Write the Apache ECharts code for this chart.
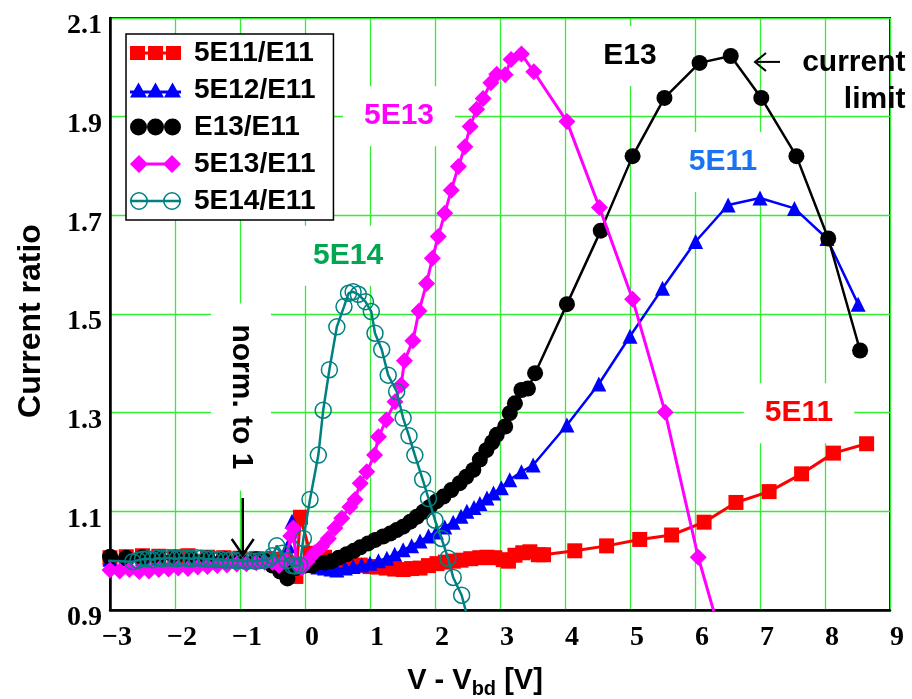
<!DOCTYPE html>
<html>
<head>
<meta charset="utf-8">
<script src="https://cdn.jsdelivr.net/npm/echarts@6/dist/echarts.min.js"></script>
<style>
  html, body { margin: 0; padding: 0; background: #fff; }
  #chart { width: 912px; height: 699px; }
</style>
</head>
<body>
<div id="chart"></div>
<script>
// Current ratio versus V - Vbd, each dose normalised to the E11 curve.
// Points are [V - Vbd (V), current ratio].
const ratio5E11 = [
  [-3, 1.006], [-2.75, 1.008], [-2.5, 1.01], [-2.25, 1.009], [-2.0, 1.008], [-1.8, 1.01],
  [-1.5, 1.007], [-1.25, 1.006], [-1.0, 1.005], [-0.75, 1.004], [-0.5, 1.003], [-0.3, 1.0],
  [-0.14, 0.968], [-0.07, 1.088], [0.08, 1.015], [0.2, 1.01], [0.3, 1.007], [0.42, 1.0],
  [0.55, 0.996], [0.7, 0.993], [0.85, 0.991], [1.0, 0.988], [1.12, 0.987], [1.25, 0.985],
  [1.38, 0.983], [1.51, 0.982], [1.64, 0.984], [1.77, 0.985], [1.9, 0.99], [2.03, 0.994],
  [2.16, 0.997], [2.28, 0.999], [2.4, 1.001], [2.55, 1.004], [2.69, 1.006], [2.8, 1.007],
  [2.92, 1.006], [3.05, 1.002], [3.13, 0.999], [3.23, 1.011], [3.35, 1.016], [3.46, 1.018],
  [3.59, 1.012], [3.67, 1.012], [4.15, 1.02], [4.64, 1.03], [5.15, 1.043], [5.64, 1.052],
  [6.14, 1.078], [6.63, 1.118], [7.14, 1.14], [7.64, 1.176], [8.13, 1.218], [8.64, 1.237]
];
const ratio5E12 = [
  [-3, 1.003], [-2.75, 1.004], [-2.5, 1.005], [-2.25, 1.005], [-2.0, 1.004], [-1.75, 1.005],
  [-1.5, 1.004], [-1.25, 1.003], [-1.0, 1.002], [-0.75, 1.002], [-0.5, 1.0], [-0.35, 1.0],
  [-0.26, 1.03], [-0.2, 1.08], [-0.13, 1.0], [-0.03, 0.99], [0.1, 0.99], [0.2, 0.987],
  [0.3, 0.985], [0.4, 0.983], [0.49, 0.981], [0.62, 0.985], [0.74, 0.988], [0.87, 0.991],
  [1.0, 0.995], [1.13, 1.0], [1.26, 1.005], [1.38, 1.013], [1.51, 1.022], [1.64, 1.03],
  [1.77, 1.04], [1.9, 1.05], [2.02, 1.058], [2.15, 1.068], [2.28, 1.078], [2.4, 1.09],
  [2.49, 1.1], [2.6, 1.108], [2.69, 1.116], [2.8, 1.127], [2.9, 1.137], [3.02, 1.148],
  [3.15, 1.164], [3.33, 1.18], [3.51, 1.194], [4.03, 1.275], [4.52, 1.358], [5.0, 1.455],
  [5.5, 1.552], [6.01, 1.647], [6.51, 1.721], [7.0, 1.735], [7.53, 1.714], [8.03, 1.653],
  [8.51, 1.52]
];
const ratioE13 = [
  [-3, 1.008], [-2.75, 1.006], [-2.5, 1.007], [-2.25, 1.006], [-2.0, 1.006], [-1.75, 1.005],
  [-1.5, 1.005], [-1.25, 1.004], [-1.0, 1.004], [-0.75, 1.003], [-0.6, 1.0], [-0.5, 0.99],
  [-0.38, 0.978], [-0.27, 0.964], [-0.15, 0.985], [0.0, 0.99], [0.1, 0.99], [0.18, 0.995],
  [0.3, 0.996], [0.41, 0.999], [0.52, 1.006], [0.64, 1.013], [0.75, 1.02], [0.85, 1.027],
  [0.97, 1.035], [1.08, 1.042], [1.2, 1.049], [1.31, 1.055], [1.41, 1.062], [1.51, 1.069],
  [1.62, 1.079], [1.72, 1.089], [1.82, 1.099], [1.92, 1.109], [2.02, 1.12], [2.13, 1.13],
  [2.25, 1.143], [2.38, 1.157], [2.48, 1.17], [2.59, 1.184], [2.69, 1.205], [2.79, 1.224],
  [2.88, 1.24], [2.95, 1.255], [3.08, 1.272], [3.15, 1.299], [3.23, 1.319], [3.33, 1.346],
  [3.43, 1.349], [3.54, 1.38], [4.03, 1.52], [4.55, 1.669], [5.04, 1.82], [5.53, 1.938],
  [6.07, 2.009], [6.55, 2.023], [7.02, 1.938], [7.56, 1.82], [8.05, 1.653], [8.54, 1.426]
];
const ratio5E13 = [
  [-3, 0.981], [-2.85, 0.979], [-2.7, 0.982], [-2.55, 0.978], [-2.4, 0.979], [-2.25, 0.982],
  [-2.1, 0.983], [-1.95, 0.985], [-1.8, 0.984], [-1.65, 0.987], [-1.5, 0.988], [-1.35, 0.99],
  [-1.2, 0.991], [-1.05, 0.993], [-0.9, 0.994], [-0.75, 0.996], [-0.62, 0.997], [-0.5, 0.997],
  [-0.4, 0.99], [-0.3, 1.0], [-0.22, 1.05], [-0.18, 1.066], [-0.13, 0.995], [-0.05, 0.985],
  [0.03, 0.998], [0.15, 1.016], [0.255, 1.028], [0.36, 1.045], [0.46, 1.066], [0.565, 1.086],
  [0.69, 1.109], [0.77, 1.124], [0.85, 1.157], [0.95, 1.18], [1.07, 1.214], [1.13, 1.251],
  [1.25, 1.285], [1.385, 1.322], [1.48, 1.356], [1.53, 1.405], [1.66, 1.446], [1.754, 1.506],
  [1.87, 1.562], [1.96, 1.613], [2.05, 1.657], [2.15, 1.704], [2.25, 1.751], [2.36, 1.799],
  [2.46, 1.839], [2.54, 1.88], [2.64, 1.915], [2.74, 1.937], [2.86, 1.969], [2.95, 1.986],
  [3.08, 1.985], [3.17, 2.016], [3.33, 2.027], [3.52, 1.991], [4.03, 1.89], [4.53, 1.716],
  [5.04, 1.53], [5.54, 1.301], [6.05, 1.007], [6.5, 0.8]
];
const ratio5E14 = [
  [-3.1, 1.0], [-2.65, 0.998], [-2.57, 1.001], [-2.5, 1.003], [-2.42, 1.004], [-2.35, 1.002],
  [-2.27, 1.005], [-2.2, 1.004], [-2.12, 1.006], [-2.05, 1.005], [-1.97, 1.004], [-1.9, 1.006],
  [-1.82, 1.005], [-1.75, 1.004], [-1.67, 1.006], [-1.6, 1.005], [-1.52, 1.003], [-1.45, 1.004],
  [-1.37, 1.002], [-1.3, 1.003], [-1.22, 1.001], [-1.15, 1.002], [-1.07, 1.0], [-1.0, 1.001],
  [-0.92, 0.999], [-0.85, 1.0], [-0.77, 0.999], [-0.7, 1.0], [-0.62, 1.001], [-0.55, 1.003],
  [-0.5, 1.01], [-0.435, 1.03], [-0.35, 1.015], [-0.28, 1.0], [-0.2, 0.99], [-0.15, 0.989],
  [-0.08, 0.991], [-0.025, 1.045], [0.077, 1.124], [0.205, 1.214], [0.28, 1.305], [0.375, 1.387],
  [0.49, 1.474], [0.6, 1.515], [0.67, 1.542], [0.74, 1.545], [0.82, 1.54], [0.93, 1.525],
  [1.02, 1.505], [1.077, 1.461], [1.18, 1.428], [1.28, 1.376], [1.41, 1.343], [1.51, 1.289],
  [1.6, 1.253], [1.69, 1.214], [1.81, 1.165], [1.9, 1.126], [2.0, 1.082], [2.1, 1.045],
  [2.2, 1.005], [2.28, 0.966], [2.41, 0.93], [2.55, 0.86]
];

const seriesNames = ['5E11/E11', '5E12/E11', 'E13/E11', '5E13/E11', '5E14/E11'];

// Text notes placed in data coordinates.
const notes = [
  { text: '5E13', x: 1.446, y: 1.901, color: '#ff00ff' },
  { text: '5E14', x: 0.662, y: 1.618, color: '#00a650' },
  { text: 'E13', x: 5.0, y: 2.023, color: '#000000' },
  { text: '5E11', x: 6.431, y: 1.808, color: '#1a73f0' },
  { text: '5E11', x: 7.6, y: 1.299, color: '#ff0000' },
  { text: 'norm. to 1', x: -0.985, y: 1.332, color: '#000000', rotate: -90 }
];
const limitNote = { text: 'current\nlimit', x: 9.246, y: 1.971 };

// Arrows: [fromV, fromRatio, toV, toRatio], head at the second point.
const arrows = [
  [-0.958, 1.127, -0.958, 1.0115],
  [7.308, 2.011, 6.923, 2.011]
];

const sans = 'Liberation Sans, Arial, sans-serif';
const serif = 'Liberation Serif, Times New Roman, serif';

const legendIcons = [
  'path://M0,1h15v14h-15z M18,1h15v14h-15z M36,1h15v14h-15z M14,6.5h5v3h-5z M32,6.5h5v3h-5z',
  'path://M0,16L8.5,1L17,16Z M17,16L25.5,1L34,16Z M34,16L42.5,1L51,16Z M0,9h51v3h-51z',
  'path://M0,8A8.5,8.5 0 1,1 17,8A8.5,8.5 0 1,1 0,8Z M17,8A8.5,8.5 0 1,1 34,8A8.5,8.5 0 1,1 17,8Z M34,8A8.5,8.5 0 1,1 51,8A8.5,8.5 0 1,1 34,8Z',
  'path://M0,9L9,0L18,9L9,18Z M33,9L42,0L51,9L42,18Z M16,7.5h19v3h-19z',
  'path://M0,9A9,9 0 1,1 18,9A9,9 0 1,1 0,9Z M1.6,9A7.4,7.4 0 1,0 16.4,9A7.4,7.4 0 1,0 1.6,9Z M33,9A9,9 0 1,1 51,9A9,9 0 1,1 33,9Z M34.6,9A7.4,7.4 0 1,0 49.4,9A7.4,7.4 0 1,0 34.6,9Z M0,7.8h51v2.4h-51z'
];
const colors = ['#ff0000', '#0000ff', '#000000', '#ff00ff', '#008080'];

function lineSeries(i, data, symbol, size, width) {
  return {
    name: seriesNames[i],
    type: 'line',
    data: data,
    symbol: symbol,
    symbolSize: size,
    showAllSymbol: true,
    clip: true,
    z: 2 + i * 0.01,
    lineStyle: { color: colors[i], width: width },
    itemStyle: { color: colors[i] },
    emphasis: { disabled: true }
  };
}

const chart = echarts.init(document.getElementById('chart'), null, { renderer: 'canvas' });

const teal = lineSeries(4, ratio5E14, 'circle', 16, 2.5);
teal.itemStyle = { color: 'rgba(0,0,0,0)', borderColor: colors[4], borderWidth: 1.5 };

chart.setOption({
  animation: false,
  backgroundColor: '#ffffff',
  grid: {
    left: 110, right: 22, top: 18, bottom: 89,
    containLabel: false,
    outerBoundsMode: 'none',
    show: true, borderColor: '#111', borderWidth: 2, backgroundColor: '#ffffff'
  },
  legend: {
    orient: 'vertical',
    left: 126, top: 34,
    padding: [4, 18, 4, 4],
    itemGap: 7,
    itemWidth: 51,
    itemHeight: 18,
    selectedMode: false,
    backgroundColor: '#ffffff',
    borderColor: '#000000',
    borderWidth: 1.5,
    borderRadius: 0,
    itemStyle: { borderWidth: 0 },
    textStyle: {
      fontFamily: sans, fontWeight: 'bold', fontSize: 28, color: '#000',
      lineHeight: 30, padding: [0, 0, 0, 8]
    },
    data: seriesNames.map((n, i) => ({
      name: n,
      icon: legendIcons[i],
      itemStyle: { color: colors[i], borderWidth: 0 }
    }))
  },
  xAxis: {
    type: 'value',
    min: -3, max: 9, interval: 1,
    name: 'V - V{sub|bd} [V]',
    nameLocation: 'middle',
    nameGap: 53,
    nameTextStyle: {
      fontFamily: sans, fontWeight: 'bold', fontSize: 29, color: '#000',
      lineHeight: 36, padding: [0, 50, 0, 0],
      rich: { sub: { fontFamily: sans, fontWeight: 'bold', fontSize: 20, lineHeight: 20, verticalAlign: 'bottom', color: '#000' } }
    },
    axisLine: { show: true, onZero: false, lineStyle: { color: '#000', width: 2.5 } },
    axisTick: { show: false },
    splitLine: { show: true, lineStyle: { color: '#33ee33', width: 1.3 } },
    axisLabel: {
      fontFamily: serif, fontWeight: 'bold', fontSize: 28, color: '#000',
      margin: 14, padding: [0, 0, 0, 14],
      formatter: v => (v < 0 ? '\u2212' + Math.abs(v) : String(v))
    }
  },
  yAxis: {
    type: 'value',
    min: 0.9, max: 2.1, interval: 0.2,
    name: 'Current ratio',
    nameLocation: 'middle',
    nameRotate: 90,
    nameGap: 63,
    nameTextStyle: { fontFamily: sans, fontWeight: 'bold', fontSize: 32, color: '#000', padding: [0, 14, 0, 0] },
    axisLine: { show: true, onZero: false, lineStyle: { color: '#000', width: 2.5 } },
    axisTick: { show: false },
    splitLine: { show: true, lineStyle: { color: '#33ee33', width: 1.3 } },
    axisLabel: {
      fontFamily: serif, fontWeight: 'bold', fontSize: 28, color: '#000',
      margin: 8,
      formatter: v => '{t|' + v.toFixed(1) + '}',
      rich: { t: { fontFamily: serif, fontWeight: 'bold', fontSize: 28, color: '#000', padding: [16, 0, 0, 0] } }
    }
  },
  series: [
    lineSeries(0, ratio5E11, 'rect', 15, 3),
    lineSeries(1, ratio5E12, 'triangle', 15, 2.5),
    lineSeries(2, ratioE13, 'circle', 16, 2.5),
    lineSeries(3, ratio5E13, 'diamond', 17, 3),
    teal,
    {
      name: 'notes',
      type: 'scatter',
      z: 1,
      clip: false,
      silent: true,
      symbolSize: 1,
      itemStyle: { color: 'rgba(0,0,0,0)', opacity: 1 },
      emphasis: { disabled: true },
      data: notes.map(n => ({
        value: [n.x, n.y],
        label: {
          show: true,
          position: 'inside',
          formatter: n.text,
          rotate: n.rotate || 0,
          color: n.color,
          opacity: 1,
          fontFamily: sans, fontWeight: 'bold', fontSize: 30, lineHeight: 30,
          backgroundColor: '#ffffff',
          padding: [15, 21]
        }
      })).concat([{
        value: [limitNote.x, limitNote.y],
        label: {
          show: true,
          position: 'left',
          distance: 0,
          align: 'right',
          formatter: limitNote.text,
          color: '#000',
          opacity: 1,
          fontFamily: sans, fontWeight: 'bold', fontSize: 30, lineHeight: 37
        }
      }])
    },
    {
      name: 'arrows',
      type: 'custom',
      z: 3,
      silent: true,
      encode: { x: [0, 2], y: [1, 3] },
      data: arrows,
      renderItem: function (params, api) {
        const p0 = api.coord([api.value(0), api.value(1)]);
        const p1 = api.coord([api.value(2), api.value(3)]);
        const dx = p1[0] - p0[0], dy = p1[1] - p0[1];
        const len = Math.hypot(dx, dy);
        const ux = dx / len, uy = dy / len;
        const hl = params.dataIndex === 0 ? 16 : 11;
        const hw = params.dataIndex === 0 ? 11 : 9;
        const w1 = [p1[0] - ux * hl - uy * hw, p1[1] - uy * hl + ux * hw];
        const w2 = [p1[0] - ux * hl + uy * hw, p1[1] - uy * hl - ux * hw];
        const lw = params.dataIndex === 0 ? 2.5 : 2;
        return {
          type: 'group',
          children: [
            { type: 'line', shape: { x1: p0[0], y1: p0[1], x2: p1[0], y2: p1[1] }, style: { stroke: '#000', lineWidth: lw } },
            { type: 'polyline', shape: { points: [w1, p1, w2] }, style: { stroke: '#000', fill: null, lineWidth: lw } }
          ]
        };
      }
    }
  ]
});
</script>
</body>
</html>
